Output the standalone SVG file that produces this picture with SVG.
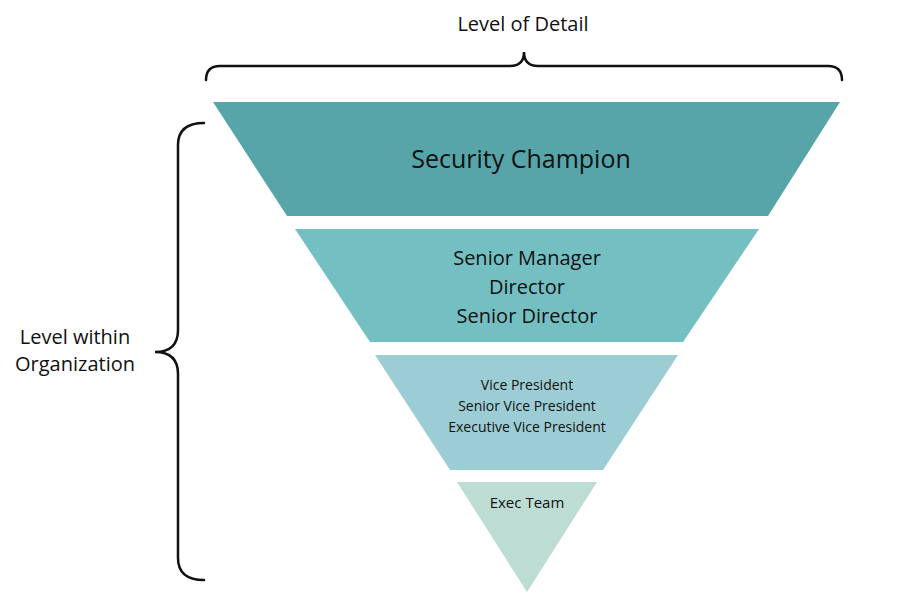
<svg xmlns="http://www.w3.org/2000/svg" width="900" height="610" viewBox="0 0 900 610">
<style>
text{font-family:"Open Sans","Liberation Sans",sans-serif;fill:#111;text-anchor:middle}
.br{fill:none;stroke:#111;stroke-width:2.5;stroke-linecap:round}
</style>
<rect width="900" height="610" fill="#fff"/>
<text x="523" y="31" font-size="20">Level of Detail</text>
<path class="br" d="M206,80 Q206,66 220,66 L510,66 Q524,66 524,52 Q524,66 538,66 L828,66 Q842,66 842,80"/>
<text x="75" y="344" font-size="20">Level within</text>
<text x="75" y="371" font-size="20">Organization</text>
<path class="br" d="M204,123 Q178,123 178,145 L178,330 Q178,352 155,352 Q178,352 178,374 L178,558 Q178,580 204,580"/>
<g id="security-champion"><polygon points="213,102 840,102 768,216 287,216" fill="#57a5a9"/><text x="521" y="168" font-size="25">Security Champion</text></g>
<g id="senior-manager"><polygon points="295,229 759,229 683,342 370,342" fill="#74bfc2"/><text x="527" y="265" font-size="20">Senior Manager</text><text x="527" y="294" font-size="20">Director</text><text x="527" y="323" font-size="20">Senior Director</text></g>
<g id="vice-president"><polygon points="375,355 678,355 603,470 450,470" fill="#9dcdd4"/><text x="527" y="390" font-size="14">Vice President</text><text x="527" y="411" font-size="14">Senior Vice President</text><text x="527" y="432" font-size="14">Executive Vice President</text></g>
<g id="exec-team"><polygon points="457,482 597,482 527,592" fill="#bcdcd4"/><text x="527" y="508" font-size="15">Exec Team</text></g>
<g id="connectors"/>
</svg>
